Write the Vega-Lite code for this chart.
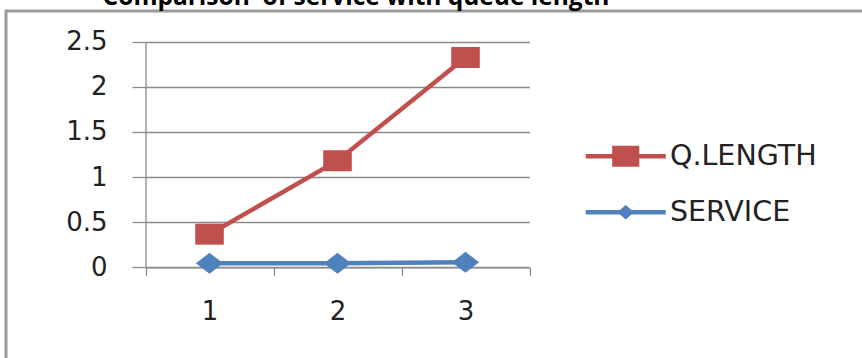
{
  "$schema": "https://vega.github.io/schema/vega-lite/v6.json",
  "width": 870,
  "height": 360,
  "autosize": "none",
  "padding": {"left": 6, "top": 11, "right": 0, "bottom": 0},
  "background": "white",
  "title": {
    "text": "Comparison\u00a0 of service with queue length",
    "anchor": "middle",
    "dx": -85,
    "dy": 23,
    "font": "Open Sans",
    "fontSize": 24.5,
    "fontWeight": "bold",
    "color": "#000000",
    "baseline": "alphabetic",
    "offset": 5
  },
  "config": {
    "view": {"stroke": "#9a9a9a", "strokeWidth": 3},
    "axis": {
      "domainColor": "#8a8a8a",
      "domainWidth": 1.3,
      "tickColor": "#8a8a8a",
      "tickWidth": 1.3,
      "gridColor": "#8a8a8a",
      "gridWidth": 1.3,
      "gridOpacity": 1,
      "labelFont": "DejaVu Sans",
      "labelFontSize": 26,
      "labelColor": "#222222",
      "title": null
    }
  },
  "data": {
    "values": [
      {"run": "1", "series": "Q.LENGTH", "value": 0.367},
      {"run": "2", "series": "Q.LENGTH", "value": 1.181},
      {"run": "3", "series": "Q.LENGTH", "value": 2.325},
      {"run": "1", "series": "SERVICE", "value": 0.044},
      {"run": "2", "series": "SERVICE", "value": 0.044},
      {"run": "3", "series": "SERVICE", "value": 0.055}
    ]
  },
  "encoding": {
    "x": {
      "field": "run",
      "type": "ordinal",
      "scale": {"type": "band", "range": [139.5, 523.5], "paddingInner": 0, "paddingOuter": 0},
      "axis": {
        "orient": "bottom",
        "offset": -103.7,
        "tickBand": "extent",
        "tickSize": 8,
        "labelPadding": 23,
        "labelAngle": 0,
        "grid": false
      }
    },
    "y": {
      "field": "value",
      "type": "quantitative",
      "scale": {"domain": [0, 2.5], "range": [256.3, 30.7], "nice": false, "zero": false},
      "axis": {
        "orient": "left",
        "offset": -139.5,
        "values": [0, 0.5, 1, 1.5, 2, 2.5],
        "format": ".1~f",
        "tickSize": 13.5,
        "labelPadding": 25,
        "grid": true
      }
    },
    "color": {
      "field": "series",
      "type": "nominal",
      "scale": {"domain": ["Q.LENGTH", "SERVICE"], "range": ["#C0504D", "#4F81BD"]},
      "legend": {
        "orient": "none",
        "legendX": 605.5,
        "legendY": 131,
        "title": null,
        "padding": 0,
        "symbolSize": 441,
        "symbolStrokeWidth": 0,
        "labelFont": "DejaVu Sans",
        "labelFontSize": 28.5,
        "labelColor": "#222222",
        "labelOffset": 30,
        "rowPadding": 27,
        "encode": {
          "symbols": {
            "update": {
              "shape": {"signal": "datum.value === 'Q.LENGTH' ? 'M-3.81,-0.21L3.81,-0.21L3.81,0.21L-3.81,0.21ZM-1.29,-1L1.29,-1L1.29,1L-1.29,1Z' : 'M-3.81,-0.21L3.81,-0.21L3.81,0.21L-3.81,0.21ZM-0.8,0L0,-0.7L0.8,0L0,0.7Z'"},
              "fill": {"scale": "color", "field": "value"},
              "fillOpacity": {"value": 1},
              "stroke": {"value": "transparent"},
              "strokeWidth": {"value": 0},
              "opacity": {"value": 1}
            }
          }
        }
      }
    }
  },
  "layer": [
    {"mark": {"type": "line", "strokeWidth": 4.5}},
    {
      "mark": {"type": "point", "filled": true, "opacity": 1, "size": 441},
      "encoding": {
        "shape": {
          "condition": {"test": "datum.series === 'SERVICE'", "value": "M-1.3,0L0,-1L1.3,0L0,1Z"},
          "value": "M-1.36,-1L1.36,-1L1.36,1L-1.36,1Z"
        }
      }
    }
  ]
}
